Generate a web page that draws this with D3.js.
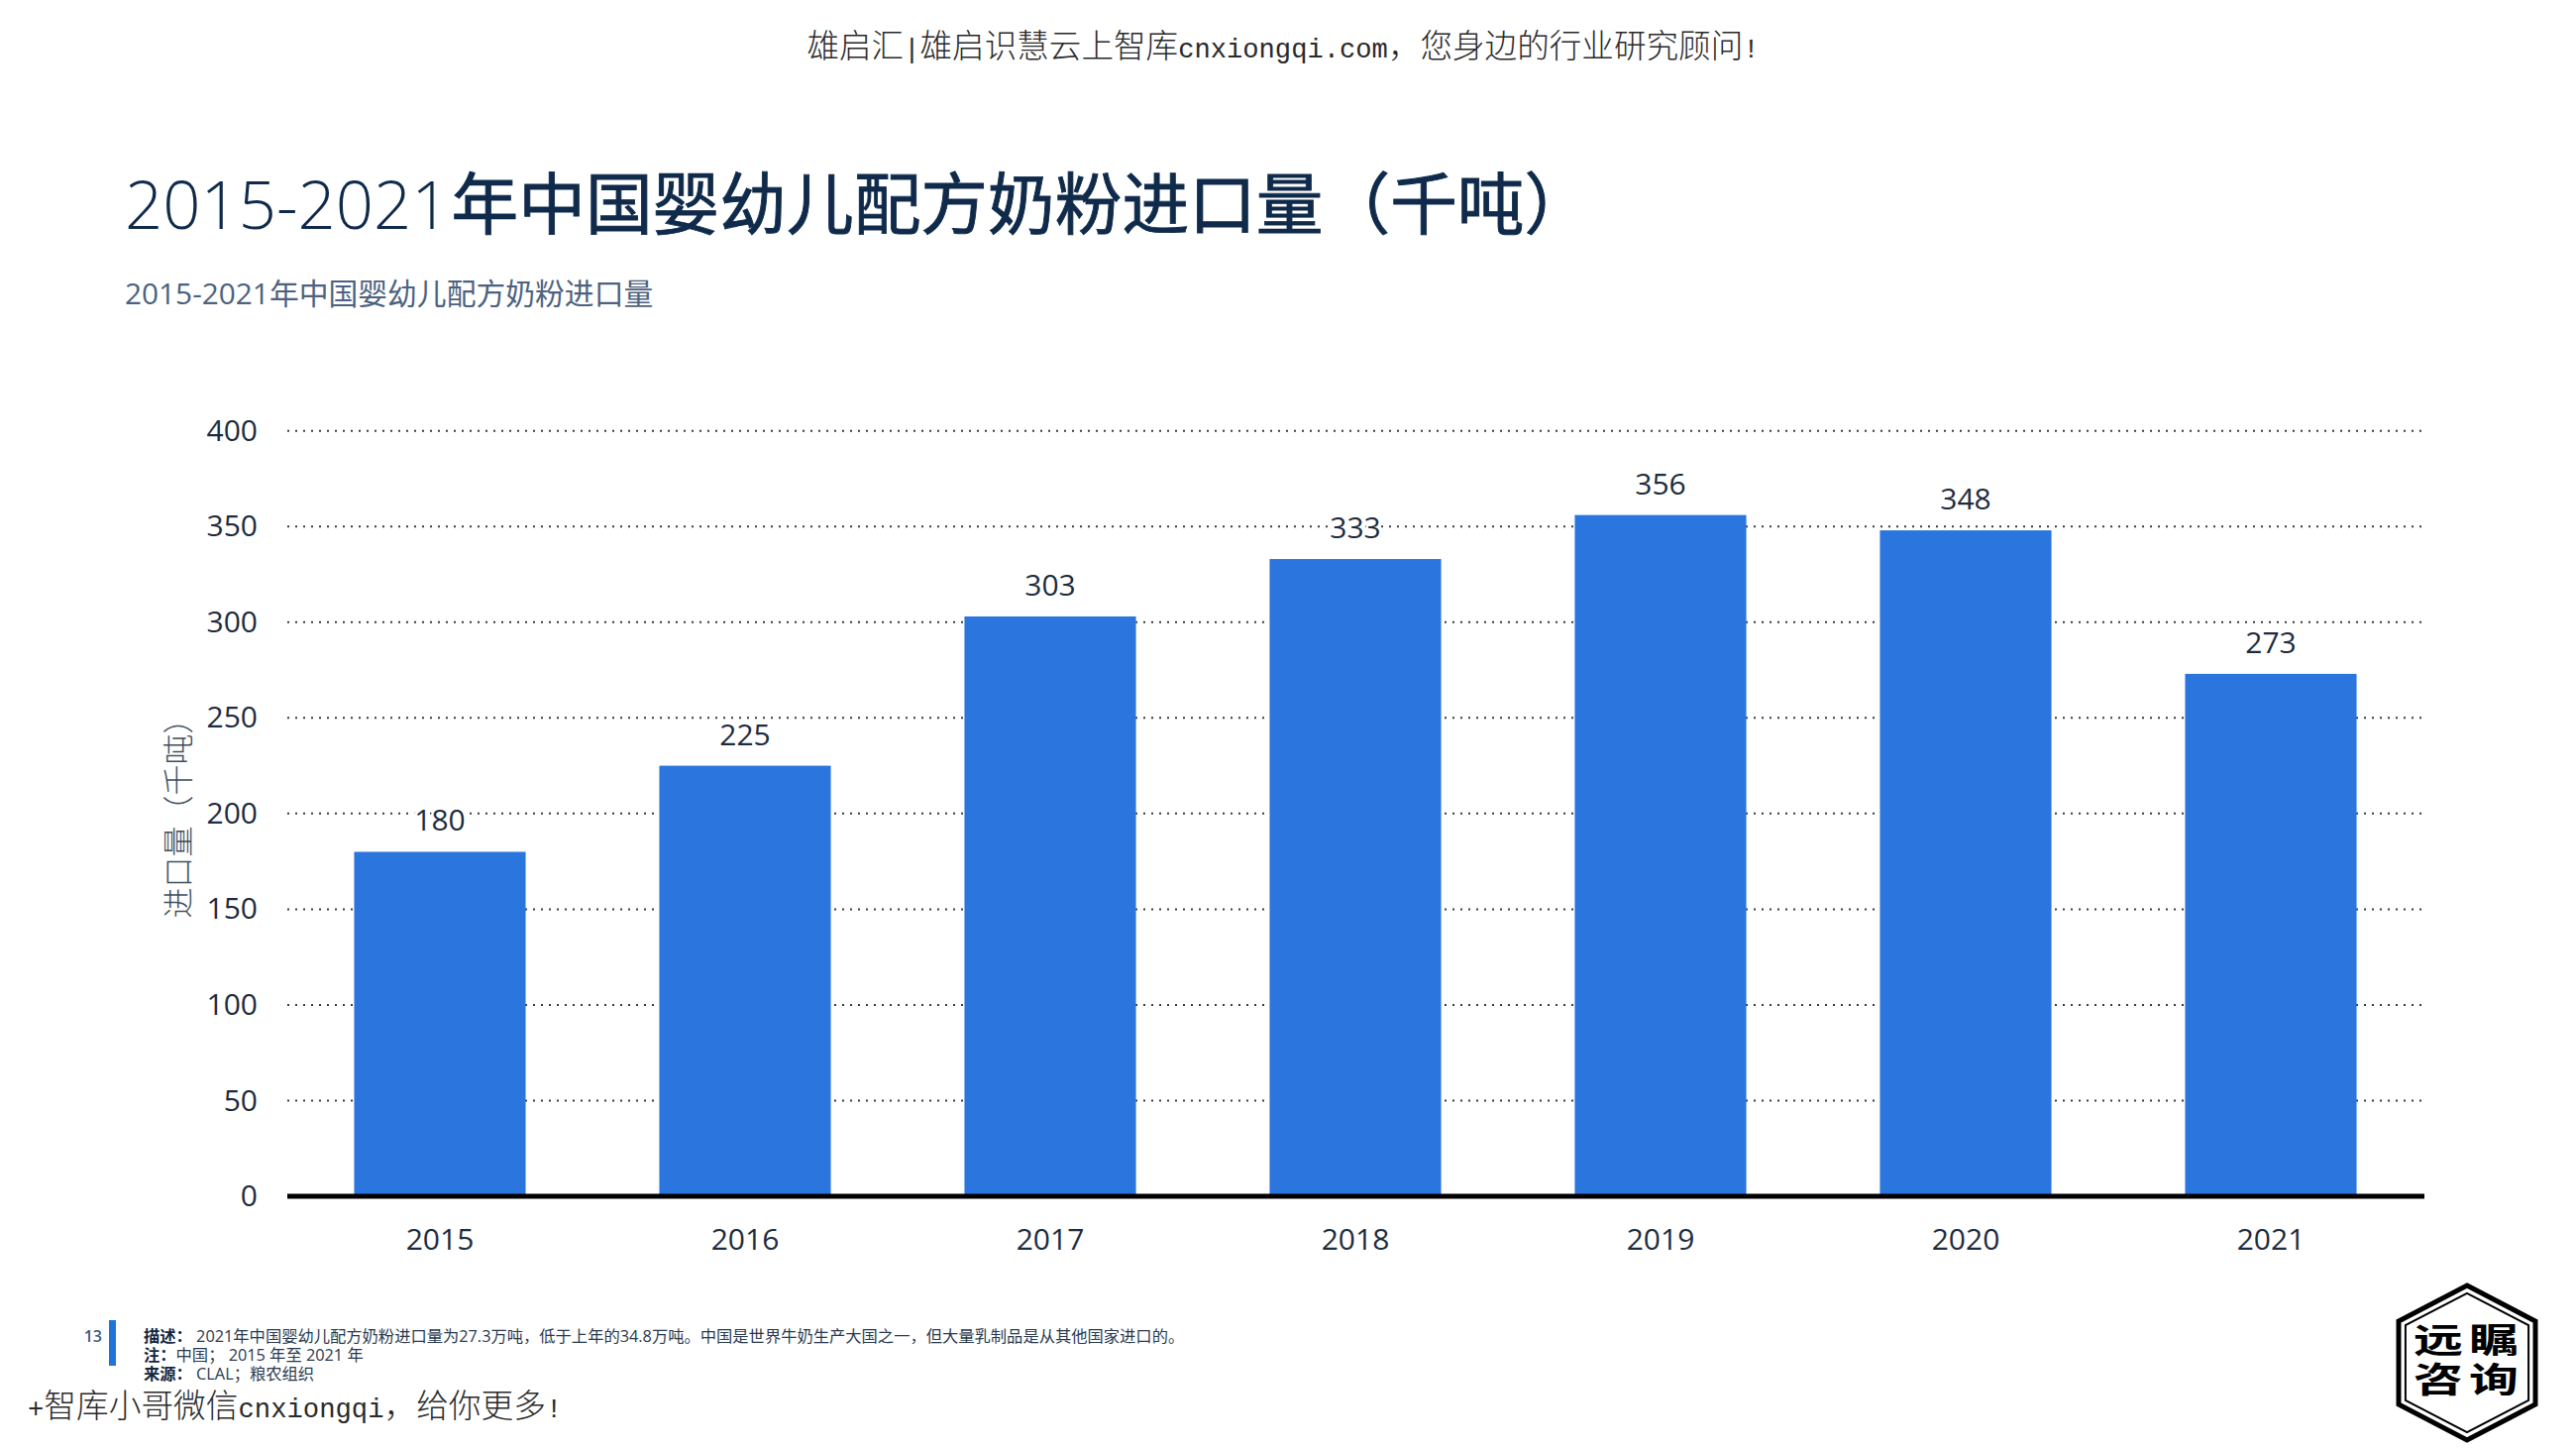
<!DOCTYPE html>
<html><head><meta charset="utf-8">
<script src="https://cdn.jsdelivr.net/npm/d3@7"></script>
<style>
html,body{margin:0;padding:0;background:#fff;}
svg{display:block;}
text{font-family:"Open Sans","Noto Sans CJK SC",sans-serif;}
</style></head><body>
<svg id="c" width="2600" height="1462"></svg>
<script>
const years = ["2015","2016","2017","2018","2019","2020","2021"];
const imports = [180,225,303,333,356,348,273];
const yTicks = [0,50,100,150,200,250,300,350,400];
const titleLatin = "2015-2021";
const titleCjk = "年中国婴幼儿配方奶粉进口量（千吨）";
const subtitleText = "2015-2021年中国婴幼儿配方奶粉进口量";
const yAxisLabel = "进口量（千吨）";
const pageNumber = "13";
const footnotes = [
  ["描述： ","2021年中国婴幼儿配方奶粉进口量为27.3万吨，低于上年的34.8万吨。中国是世界牛奶生产大国之一，但大量乳制品是从其他国家进口的。"],
  ["注：","中国； 2015 年至 2021 年"],
  ["来源： ","CLAL；粮农组织"]
];
const watermarkTop = [["c","雄启汇"],["l","|"],["c","雄启识慧云上智库"],["l","cnxiongqi.com"],["c","，您身边的行业研究顾问"],["l","!"]];
const watermarkBottom = [["l","+"],["c","智库小哥微信"],["l","cnxiongqi"],["c","，给你更多"],["l","!"]];
const logoChars = [["远","瞩"],["咨","询"]];

const svg = d3.select("#c");
const x = d3.scaleBand().domain(years).range([290,2446]).paddingInner(0.438).paddingOuter(0.219);
const y = d3.scaleLinear().domain([0,400]).range([1207,434.7]);

function mixed(sel, segs, fs){
  segs.forEach(([k,t])=>{
    sel.append("tspan").text(t)
      .style("font-family", k==="l" ? '"Liberation Mono",monospace' : '"Noto Sans CJK SC",sans-serif')
      .attr("font-size", k==="l" ? fs*0.833 : fs)
      .attr("font-weight", k==="l" ? 400 : 300);
  });
}
mixed(svg.append("text").attr("x",1295).attr("y",58).attr("text-anchor","middle").attr("fill","#2a2a2a"), watermarkTop, 32.6);
mixed(svg.append("text").attr("x",28).attr("y",1430).attr("fill","#2a2a2a"), watermarkBottom, 32.7);

const title = svg.append("text").attr("x",126).attr("y",231).attr("fill","#0f2a4a").attr("font-size",67.7);
title.append("tspan").text(titleLatin).attr("font-weight",300).attr("font-size",67);
title.append("tspan").text(titleCjk).attr("dx",2).attr("font-weight",400).attr("stroke","#0f2a4a").attr("stroke-width",0.9).style("font-family",'"Noto Sans CJK SC"');
svg.append("text").attr("x",126).attr("y",307).attr("fill","#4c6280").attr("font-size",29.8).text(subtitleText);

// gridlines
svg.append("g").selectAll("line").data(yTicks.filter(d=>d>0)).join("line")
  .attr("x1",290).attr("x2",2450).attr("y1",d=>y(d)).attr("y2",d=>y(d))
  .attr("stroke","#3c3c3c").attr("stroke-width",2).attr("stroke-dasharray","2 6");

// bars
svg.append("g").selectAll("rect").data(years).join("rect")
  .attr("x",d=>x(d)).attr("width",x.bandwidth())
  .attr("y",(d,i)=>y(imports[i])).attr("height",(d,i)=>y(0)-y(imports[i]))
  .attr("fill","#2a75de");

// axes
const ay = svg.append("g").attr("transform","translate(290,0)")
  .call(d3.axisLeft(y).tickValues(yTicks).tickSize(0).tickPadding(30));
ay.select(".domain").remove();
ay.selectAll("text").attr("font-size",30).attr("fill","#1d2c3e").style("font-family",'"Open Sans"');
const ax = svg.append("g").attr("transform","translate(0,1207)")
  .call(d3.axisBottom(x).tickSize(0).tickPadding(33));
ax.select(".domain").attr("stroke","#000").attr("stroke-width",5).attr("d","M290,0H2447");
ax.selectAll("text").attr("font-size",30).attr("fill","#1d2c3e").style("font-family",'"Open Sans"');

// value labels
svg.append("g").selectAll("text").data(years).join("text")
  .attr("x",d=>x(d)+x.bandwidth()/2).attr("y",(d,i)=>y(imports[i])-21)
  .attr("text-anchor","middle").attr("font-size",30).attr("fill","#1d2c3e")
  .attr("stroke","#fff").attr("stroke-width",5).attr("paint-order","stroke")
  .text((d,i)=>imports[i]);

// y-axis title
svg.append("text").attr("transform","translate(191,818) rotate(-90)").attr("text-anchor","middle")
  .attr("font-size",31).attr("font-weight",300).attr("fill","#3f4f60")
  .style("font-family",'"Noto Sans CJK SC"').text(yAxisLabel);

// footer
svg.append("text").attr("x",103).attr("y",1354).attr("text-anchor","end").attr("font-size",16).attr("font-weight",600).attr("fill","#3f5a80").text(pageNumber);
svg.append("rect").attr("x",110).attr("y",1332).attr("width",7).attr("height",46).attr("fill","#1f74d8");
footnotes.forEach((f,i)=>{
  const t = svg.append("text").attr("x",145).attr("y",1354+i*19).attr("font-size",16.3).attr("fill","#2a3a50");
  t.append("tspan").text(f[0]).attr("font-weight",700).attr("fill","#14273f");
  t.append("tspan").text(f[1]);
});

// logo
const logo = svg.append("g").attr("transform","translate(2490,1375)");
const hex = r => [[0,-78*r],[69*r,-42*r],[69*r,42*r],[0,78*r],[-69*r,42*r],[-69*r,-42*r]].map(p=>p.join(",")).join(" ");
logo.append("polygon").attr("points",hex(1)).attr("fill","#fff").attr("stroke","#000").attr("stroke-width",5);
logo.append("polygon").attr("points",hex(0.9)).attr("fill","none").attr("stroke","#000").attr("stroke-width",2);
logoChars.forEach((row,r)=>row.forEach((ch,c)=>{
  logo.append("text").attr("transform",`translate(${c?27:-29},${r?30:-10}) scale(1,0.7)`).attr("text-anchor","middle")
    .attr("font-size",50).attr("font-weight",700).attr("fill","#000")
    .style("font-family",'"Noto Sans CJK SC"').text(ch);
}));
</script>
</body></html>
